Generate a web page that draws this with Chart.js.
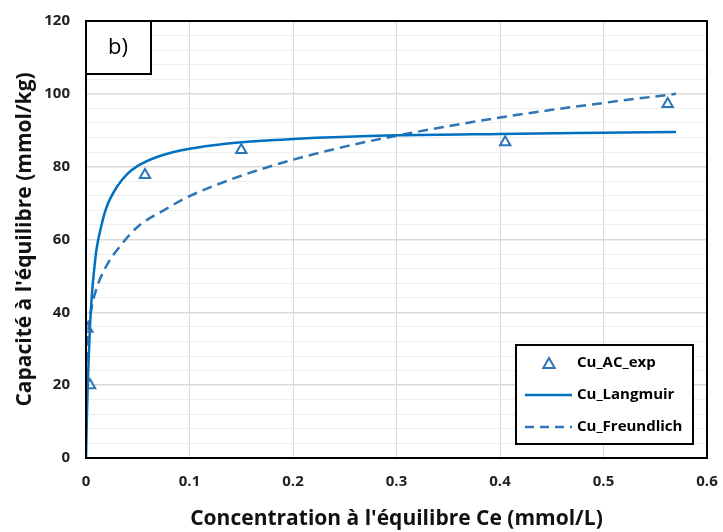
<!DOCTYPE html>
<html>
<head>
<meta charset="utf-8">
<script src="https://cdn.jsdelivr.net/npm/chart.js@4.4.0/dist/chart.umd.min.js"></script>
<style>
  html, body { margin: 0; padding: 0; background: #fff; }
  #wrap { width: 723px; height: 532px; position: relative; }
</style>
</head>
<body>
<div id="wrap"><canvas id="chart"></canvas></div>
<script>
// experimental points
const expX = [0.0013, 0.0039, 0.057, 0.15, 0.405, 0.562];
const expY = [35.5, 20, 77.7, 84.6, 86.7, 97.2];

// Langmuir curve
const langX = [0, 0.001, 0.002, 0.004, 0.006, 0.008, 0.01, 0.015, 0.02, 0.03, 0.04, 0.05, 0.07, 0.1, 0.15, 0.2, 0.3, 0.4, 0.5, 0.57];
const langY = [0, 13, 23, 37, 46, 52, 57, 64, 69, 74.5, 78, 80.2, 82.8, 84.9, 86.7, 87.6, 88.6, 89, 89.3, 89.5];

// Freundlich curve
const freuX = [0.0005, 0.001, 0.002, 0.005, 0.01, 0.02, 0.03, 0.05, 0.075, 0.1, 0.15, 0.2, 0.25, 0.3, 0.35, 0.4, 0.45, 0.5, 0.57];
const freuY = [26.3, 29.9, 34.2, 40.6, 46.4, 52.9, 57.1, 63.5, 68, 71.9, 77.5, 81.9, 85.5, 88.5, 91.1, 93.5, 95.6, 97.5, 100];

const labels = ['Cu_AC_exp', 'Cu_Langmuir', 'Cu_Freundlich'];
const xTicks = [0, 0.1, 0.2, 0.3, 0.4, 0.5, 0.6];
const yTicks = [0, 20, 40, 60, 80, 100, 120];

const FONT = "'Open Sans', 'DejaVu Sans', sans-serif";
const BLUE = '#0070C0';
const BLUE2 = '#2E75B6';

const pts = (xs, ys) => xs.map((x, i) => ({ x, y: ys[i] }));

function drawTriangle(ctx, x, y, r) {
    ctx.beginPath();
    ctx.moveTo(x, y - r);
    ctx.lineTo(x + r * 0.95, y + r * 0.65);
    ctx.lineTo(x - r * 0.95, y + r * 0.65);
    ctx.closePath();
    ctx.stroke();
}

const framePlugin = {
    id: 'frame',
    afterDraw(chart) {
        const ctx = chart.ctx;
        const ca = chart.chartArea;
        ctx.save();
        // plot border
        ctx.strokeStyle = '#000';
        ctx.lineWidth = 2;
        ctx.strokeRect(ca.left, ca.top, ca.right - ca.left, ca.bottom - ca.top);

        // "b)" label box
        ctx.fillStyle = '#fff';
        ctx.fillRect(ca.left, ca.top, 65, 53);
        ctx.strokeRect(ca.left, ca.top, 65, 53);
        ctx.fillStyle = '#000';
        ctx.font = "22px " + FONT;
        ctx.textAlign = 'center';
        ctx.textBaseline = 'middle';
        ctx.fillText('b)', ca.left + 32, ca.top + 27);

        // legend box
        const lx = ca.right - 191, ly = ca.bottom - 113, lw = 177, lh = 99;
        ctx.fillStyle = '#fff';
        ctx.fillRect(lx, ly, lw, lh);
        ctx.strokeStyle = '#000';
        ctx.lineWidth = 2;
        ctx.strokeRect(lx, ly, lw, lh);
        ctx.font = "bold 15px " + FONT;
        ctx.textAlign = 'left';
        const rows = [ly + 18, ly + 50, ly + 82];
        // triangle
        ctx.strokeStyle = BLUE2;
        ctx.lineWidth = 2;
        drawTriangle(ctx, lx + 33, rows[0] + 1, 6);
        // solid
        ctx.strokeStyle = BLUE;
        ctx.lineWidth = 2.5;
        ctx.beginPath(); ctx.moveTo(lx + 9, rows[1]); ctx.lineTo(lx + 56, rows[1]); ctx.stroke();
        // dashed
        ctx.strokeStyle = BLUE2;
        ctx.setLineDash([9, 6]);
        ctx.beginPath(); ctx.moveTo(lx + 9, rows[2]); ctx.lineTo(lx + 56, rows[2]); ctx.stroke();
        ctx.setLineDash([]);
        ctx.fillStyle = '#000';
        ctx.textBaseline = 'middle';
        labels.forEach((t, i) => ctx.fillText(t, lx + 61, rows[i]));
        ctx.restore();
    }
};

new Chart(document.getElementById('chart'), {
    type: 'scatter',
    data: {
        datasets: [
            {
                label: labels[0], data: pts(expX, expY),
                pointStyle: 'triangle', pointRadius: 6, pointBorderWidth: 2,
                pointBorderColor: BLUE2, pointBackgroundColor: 'rgba(0,0,0,0)',
                showLine: false, order: 0
            },
            {
                label: labels[1], data: pts(langX, langY),
                showLine: true, borderColor: BLUE, borderWidth: 2.5,
                pointRadius: 0, cubicInterpolationMode: 'monotone', order: 1
            },
            {
                label: labels[2], data: pts(freuX, freuY),
                showLine: true, borderColor: BLUE2, borderWidth: 2.5, borderDash: [10, 6],
                pointRadius: 0, cubicInterpolationMode: 'monotone', order: 2
            }
        ]
    },
    options: {
        responsive: true,
        maintainAspectRatio: false,
        animation: false,
        layout: { padding: { top: 21, right: 16, left: 12, bottom: 0 } },
        plugins: { legend: { display: false }, tooltip: { enabled: false } },
        scales: {
            x: {
                type: 'linear', min: 0, max: 0.6,
                afterBuildTicks: s => { s.ticks = xTicks.map(v => ({ value: v })); },
                afterFit: s => { s.height = 74; s.paddingLeft = 0; s.paddingRight = 0; },
                grid: { color: '#d9d9d9', lineWidth: 1, drawTicks: false },
                border: { display: false },
                ticks: {
                    padding: 15, color: '#222',
                    font: { family: FONT, size: 15, weight: 'bold' },
                    callback: v => String(Math.round(v * 10) / 10)
                },
                title: {
                    display: true, text: "Concentration à l'équilibre Ce (mmol/L)",
                    color: '#111', font: { family: FONT, size: 21, weight: 'bold' },
                    padding: { top: 3, bottom: 0 }
                }
            },
            y: {
                type: 'linear', min: 0, max: 120,
                ticks: {
                    stepSize: 4, autoSkip: false, padding: 16, color: '#222',
                    font: { family: FONT, size: 15, weight: 'bold' },
                    callback: v => (yTicks.includes(v) ? String(v) : '')
                },
                afterFit: s => { s.width = 74; s.paddingTop = 0; s.paddingBottom = 0; },
                grid: {
                    drawTicks: false,
                    color: c => (c.tick && c.tick.value % 20 === 0 ? '#d9d9d9' : '#eeeeee'),
                    lineWidth: c => (c.tick && c.tick.value % 20 === 0 ? 1.5 : 1)
                },
                border: { display: false },
                title: {
                    display: true, text: "Capacité à l'équilibre (mmol/kg)",
                    color: '#111', font: { family: FONT, size: 21, weight: 'bold' },
                    padding: { top: 0, bottom: 0 }
                }
            }
        }
    },
    plugins: [framePlugin]
});
</script>
</body>
</html>
